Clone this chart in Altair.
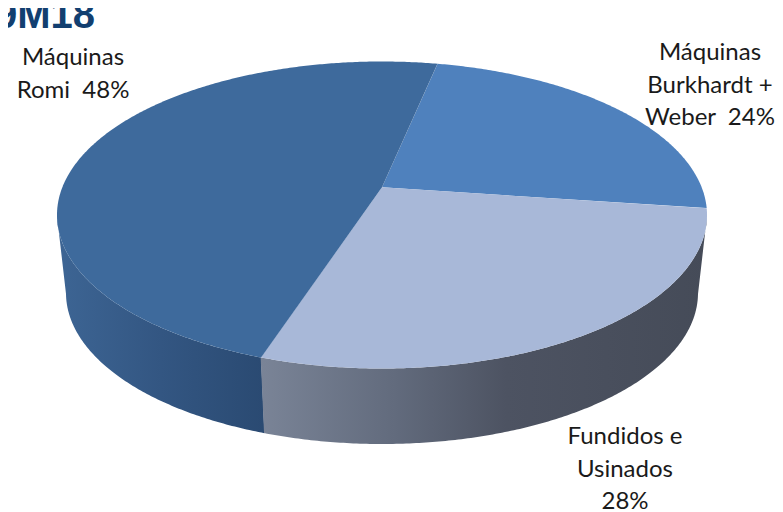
import numpy as np
import altair as alt

categories = ["Máquinas Burkhardt + Weber", "Fundidos e Usinados", "Máquinas Romi"]
shares = [23.9, 27.9, 48.2]
top_colors = ["#4f81bd", "#a8b8d8", "#3e6a9c"]
title_text = "9M18"

OFF = 8  # page margin
W, H = 767, 504
START = 78.2
CX, CY, RX, RY = 382.0, 215.0, 325.0, 153.5
BCX, BCY, BRX, BRY = 382.0, 293.0, 316.0, 151.0
K = 0.18


def rim_params(a_deg):
    a = np.radians(a_deg)
    x, y = np.cos(a), np.sin(a)
    d = 1 + K * y
    return np.unwrap(np.arctan2((y + K) / d, x * np.sqrt(1 - K**2) / d))


def pts(t, cx, cy, rx, ry):
    return [[float(cx + rx * np.cos(v) - OFF), float(cy - ry * np.sin(v) - OFF)] for v in t]


def feature(ring, name):
    ring = ring + [ring[0]]
    return {"type": "Feature", "properties": {"name": name},
            "geometry": {"type": "Polygon", "coordinates": [ring]}}


tops, walls = {}, {}
a0 = START
for name, s in zip(categories, shares):
    a1 = a0 - s * 3.6
    t = rim_params(np.arange(a0, a1 - 0.25, -0.5))
    apex = [CX - OFF, CY - RY * K - OFF]
    tops[name] = feature([apex] + pts(t, CX, CY, RX, RY), name)
    front = t[np.sin(t) <= 0]
    if len(front) > 1:
        walls[name] = feature(pts(front, CX, CY, RX, RY) + pts(front[::-1], BCX, BCY, BRX, BRY), name)
    a0 = a1

proj = alt.Projection(type="identity", scale=1, translate=[0, 0])


def shape(feat, fill):
    return alt.Chart(alt.Data(values=[feat])).mark_geoshape(
        fill=fill, strokeWidth=0).project(**proj.to_dict())


def grad(stops):
    return alt.LinearGradient(gradient="linear", x1=0, x2=1, y1=0, y2=0,
                              stops=[alt.GradientStop(offset=o, color=c) for o, c in stops])


romi_wall = shape(walls[categories[2]], grad([(0, "#3d6594"), (0.5, "#335682"), (1, "#2a4a72")]))
fund_wall = shape(walls[categories[1]], grad([(0, "#7a8497"), (0.3, "#626b7d"), (0.55, "#4d5362"), (1, "#454b58")]))
top_layers = [shape(tops[n], c) for n, c in zip(categories, top_colors)]


def label(lines, x, y):
    return alt.Chart(alt.Data(values=[{"k": 0}])).mark_text(
        text=lines, font="Lato", fontSize=24, lineHeight=32.5, color="#1a1a1a",
        align="center", baseline="alphabetic"
    ).encode(x=alt.value(x - OFF), y=alt.value(y - OFF))


NB = "\u00a0"
labels = [
    label(["Máquinas", f"Romi{NB}{NB}48%"], 73, 65),
    label(["Máquinas", "Burkhardt +", f"Weber{NB}{NB}24%"], 710, 60),
    label(["Fundidos e", "Usinados", "28%"], 625, 444),
]

title = alt.Chart(alt.Data(values=[{"k": 0}])).mark_text(
    text=title_text, font="Liberation Sans", fontWeight="bold", fontSize=40,
    color="#123f70", align="right", baseline="alphabetic"
).encode(x=alt.value(95 - OFF), y=alt.value(28 - OFF))

chart = alt.layer(
    romi_wall, fund_wall, *top_layers, *labels, title
).properties(width=W, height=H, padding=0, autosize=alt.AutoSizeParams(type="none"),
             background="white").configure_view(stroke=None)

chart.save("out.html", embed_options={"renderer": "svg", "actions": False})
